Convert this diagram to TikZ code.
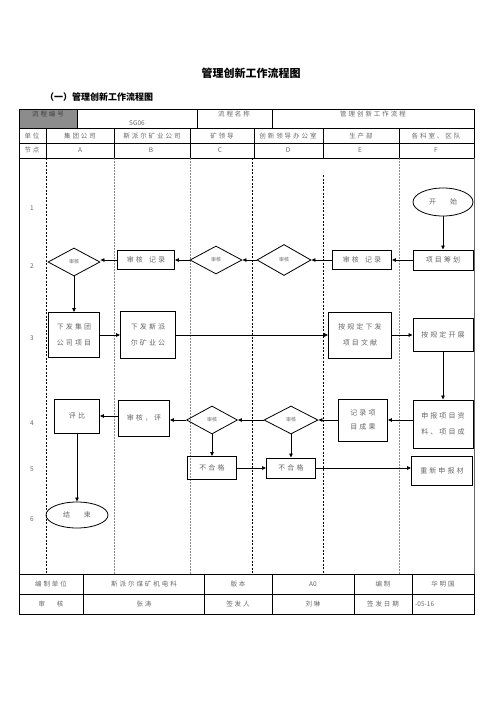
\documentclass[tikz,border=0pt]{standalone}
\usepackage{fontspec}
\setmainfont{Noto Sans CJK SC}
\newfontfamily\spaced[LetterSpace=30]{Noto Sans CJK SC}
\usetikzlibrary{positioning, arrows.meta, shapes.geometric}
\definecolor{txtgray}{gray}{0.4}
\definecolor{cellgray}{gray}{0.55}

\begin{document}
\begin{tikzpicture}[x=1pt,y=-1pt,
  box/.style={draw=black, line width=0.9pt, inner sep=1pt, align=center,
    font=\spaced\fontsize{7}{8}\selectfont, text=txtgray},
  dia/.style={diamond, draw=black, line width=0.8pt, inner sep=0pt,
    font=\fontsize{5}{6}\selectfont, text=txtgray},
  oval/.style={ellipse, draw=black, line width=0.8pt, inner sep=0pt,
    font=\fontsize{7}{8}\selectfont, text=txtgray},
  arr/.style={draw=black, line width=0.8pt, -{Triangle[length=4pt,width=3.5pt]}},
  cell/.style={font=\spaced\fontsize{6.5}{7}\selectfont, text=txtgray, inner sep=0pt},
  latin/.style={font=\fontsize{6.5}{7}\selectfont, text=txtgray, inner sep=0pt},
  lane/.style={draw=black!45, line width=0.6pt, dash pattern=on 2pt off 1pt},
  laneb/.style={draw=black, line width=0.6pt, dash pattern=on 2pt off 1.5pt}]
\useasboundingbox (0,0) rectangle (496,702);

% title
\node[font=\bfseries\fontsize{11}{12}\selectfont] (title) at (251,73) {管理创新工作流程图};
\node[anchor=west, font=\bfseries\fontsize{9}{10}\selectfont, inner sep=0pt] (subtitle) at (45,97) {（一）管理创新工作流程图};

% header table
\fill[cellgray] (19,109) rectangle (77,128);
\draw[line width=0.8pt] (19,109) rectangle (474,158);
\draw[line width=0.8pt] (19,128) -- (474,128) (19,143) -- (474,143);
\foreach \x in {77,197,272} \draw[line width=0.8pt] (\x,109) -- (\x,128);
\foreach \x in {46,114,190,254,323,399} \draw[line width=0.8pt] (\x,128) -- (\x,158);
\node[cell, text=black!75] (codehd) at (48,114) {流程编号};
\node[latin] (code) at (137,123) {SG06};
\node[cell] (namehd) at (234,114) {流程名称};
\node[cell] (name) at (373,114) {管理创新工作流程};
\foreach \x/\t in {32/单位,80/集团公司,152/斯派尔矿业公司,222/矿领导,288/创新领导办公室,361/生产部,436/各科室、区队}
  \node[cell] at (\x,136) {\t};
\node[cell] at (32,150) {节点};
\foreach \x/\t in {80/A,151/B,220/C,288/D,360/E,436/F}
  \node[latin] at (\x,150) {\t};

% body frame and lanes
\draw[line width=0.8pt] (19,158) -- (19,574);
\draw[line width=1pt, black!60] (474,158) -- (474,574);
\draw[laneb] (46,158) -- (46,574);
\draw[lane] (114,158) -- (114,574);
\draw[lane] (190,158) -- (190,574);
\draw[laneb] (252,158) -- (252,574);
\draw[laneb] (323,175) -- (323,574);
\draw[lane] (399,158) -- (399,574);
\foreach \y/\n in {208/1,266/2,338/3,423/4,469/5,519/6}
  \node[latin] at (32,\y) {\n};

% row 1-2
\node[oval, minimum width=60, minimum height=28] (start) at (443,202) {开\hspace{14pt}始};
\node[box, minimum width=60, minimum height=20] (plan) at (443,260) {项目筹划};
\node[box, minimum width=59, minimum height=19] (recE) at (362,260) {审核\hspace{6pt}记录};
\node[dia, minimum width=54, minimum height=31] (chkD) at (284,260) {审核};
\node[dia, minimum width=52, minimum height=28] (chkC) at (216,260) {审核};
\node[box, minimum width=57, minimum height=19] (recB) at (146,260) {审核\hspace{6pt}记录};
\node[dia, minimum width=52, minimum height=28] (chkA) at (74,262) {审核};

% row 3
\node[box, minimum width=51, minimum height=45] (issueA) at (74,335) {下发集团\\[8pt]公司项目};
\node[box, minimum width=55, minimum height=47] (issueB) at (148,335) {下发斯派\\[8pt]尔矿业公};
\node[box, minimum width=63, minimum height=46] (issueD) at (360,335) {按规定下发\\[8pt]项目文献};
\node[box, minimum width=60, minimum height=33] (doF) at (443,335) {按规定开展};

% row 4
\node[box, minimum width=60, minimum height=48] (reportF) at (443,424) {申报项目资\\[8pt]料、项目成};
\node[box, minimum width=49, minimum height=42] (recordE) at (363,420) {记录项\\[6pt]目成果};
\node[dia, minimum width=54, minimum height=28] (chkD2) at (291,420) {审核};
\node[dia, minimum width=51, minimum height=28] (chkC2) at (212,420) {审核};
\node[box, minimum width=51, minimum height=36] (evalB) at (144,418) {审核，评};
\node[box, minimum width=45, minimum height=34] (rankA) at (77,416) {评比};

% row 5-6
\node[box, minimum width=49, minimum height=23] (failC) at (212,468) {不合格};
\node[box, minimum width=49, minimum height=20] (failD) at (291,468) {不合格};
\node[box, minimum width=61, minimum height=29] (redoF) at (442,471) {重新申报材};
\node[oval, minimum width=62, minimum height=26] (finish) at (77,515) {结\hspace{14pt}束};

% connectors
\draw[arr] (start) -- (plan);
\draw[arr] (plan) -- (recE);
\draw[arr] (recE) -- (chkD);
\draw[arr] (chkD) -- (chkC);
\draw[arr] (chkC) -- (recB);
\draw[arr] (recB) -- (chkA.east |- recB);
\draw[arr] (chkA) -- (issueA);
\draw[arr] (issueA) -- (issueB);
\draw[arr] (issueB) -- (issueD);
\draw[arr] (issueD) -- (doF);
\draw[arr] (doF) -- (reportF);
\draw[arr] (reportF.west |- recordE.east) -- (recordE.east);
\draw[arr] (recordE) -- (chkD2);
\draw[arr] (chkD2) -- (chkC2);
\draw[arr] (chkC2) -- (evalB.east |- chkC2);
\draw[arr] (evalB.west |- rankA) -- (rankA);
\draw[arr] (rankA) -- (finish);
\draw[arr] (chkC2) -- (failC);
\draw[arr] (chkD2) -- (failD);
\draw[arr] (failC) -- (failD);
\draw[arr] (failD.east) -- (failD.east -| redoF.west);

% footer table
\draw[line width=0.8pt] (19,574) rectangle (474,614);
\draw[line width=0.8pt] (19,594) -- (474,594);
\foreach \x in {83,204,272,354,412} \draw[line width=0.8pt] (\x,574) -- (\x,614);
\foreach \x/\t in {51/编制单位,144/斯派尔煤矿机电科,238/版本,383/编制,443/华明国}
  \node[cell] at (\x,584) {\t};
\node[latin] (version) at (313,584) {A0};
\foreach \x/\t in {51/审\hspace{12pt}核,144/张涛,238/签发人,313/刘琳,383/签发日期}
  \node[cell] at (\x,604) {\t};
\node[latin, anchor=west] (date) at (415,604) {-05-16};
\end{tikzpicture}
\end{document}
